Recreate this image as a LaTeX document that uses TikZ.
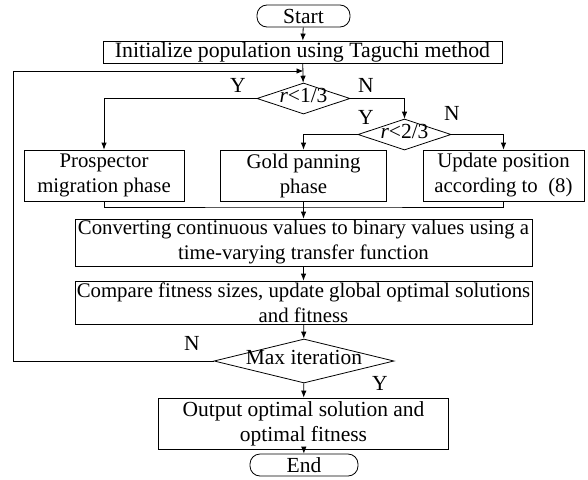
\documentclass[tikz,border=0pt]{standalone}
\usepackage{fontspec}
\setmainfont{Liberation Serif}
\usetikzlibrary{arrows.meta,shapes.geometric}
\tikzset{
  box/.style={draw, line width=0.8pt, inner sep=0pt, align=center, font=\fontsize{20.8}{25}\selectfont},
  term/.style={box, rounded corners=10pt, minimum width=93pt, minimum height=22pt},
  dec/.style={draw, line width=0.8pt, diamond, inner sep=0pt, font=\fontsize{21.5}{25}\selectfont},
  lbl/.style={inner sep=0pt, font=\fontsize{21.5}{25}\selectfont},
  conn/.style={line width=0.8pt},
  arr/.style={conn, -{Latex[length=7pt,width=5.5pt]}}
}
\newcommand{\dtext}[1]{\raisebox{-0.33em}{\makebox[0pt]{\smash{#1}}}}
\begin{document}
\begin{tikzpicture}[x=1pt,y=-1pt]
\useasboundingbox (0,0) rectangle (588,479);
\node[term, font=\fontsize{21.5}{25}\selectfont] (start) at (303.5,16) {Start};
\node[box, minimum width=399pt, minimum height=22pt, font=\fontsize{21.8}{25}\selectfont] (init) at (302.5,52) {Initialize population using Taguchi method};
\node[dec, minimum width=93pt, minimum height=31pt] (d1) at (303.5,98.5) {\dtext{{\itshape r}<1/3}};
\node[dec, minimum width=93pt, minimum height=31pt] (d2) at (404.5,134.5) {\dtext{{\itshape r}<2/3}};
\node[box, minimum width=160pt, minimum height=51pt] (pros) at (104,175.5) {Prospector\\migration phase};
\node[box, minimum width=166pt, minimum height=51pt] (gold) at (303.5,175.5) {Gold panning\\phase};
\node[box, minimum width=161pt, minimum height=51pt] (upd) at (503.5,175.5) {Update position\\according to~~(8)};
\node[box, minimum width=457pt, minimum height=47pt] (conv) at (303.5,242.5) {Converting continuous values to binary values using a\\time-varying transfer function};
\node[box, minimum width=457pt, minimum height=43pt] (comp) at (303.5,302.5) {Compare fitness sizes, update global optimal solutions\\and fitness};
\node[dec, minimum width=180pt, minimum height=44pt] (max) at (304,361) {\dtext{Max iteration}};
\node[box, minimum width=290pt, minimum height=51pt, font=\fontsize{21.5}{25}\selectfont] (out) at (303.5,423.5) {Output optimal solution and\\optimal fitness};
\node[term, minimum width=108pt, font=\fontsize{21.5}{25}\selectfont] (end) at (304,465) {End};

\node[lbl] (y1) at (238,85) {Y};
\node[lbl] (n1) at (366,85) {N};
\node[lbl] (y2) at (366,117) {Y};
\node[lbl] (n2) at (452,113) {N};
\node[lbl] (n3) at (192,343) {N};
\node[lbl] (y3) at (380,383) {Y};

\coordinate (join) at (303.5,71);
\coordinate (loopT) at (13,71);
\coordinate (loopB) at (13,361);
\coordinate (mrg) at (303.5,207);

\draw[arr] (start) -- (init);
\draw[arr] (init) -- (d1);
\draw[arr] (max.west) -- (loopB) -- (loopT) -- (join);
\draw[arr] (d1.west) -| (pros.north);
\draw[arr] (d1.east) -| (d2.north);
\draw[arr] (d2.west) -| (gold.north);
\draw[arr] (d2.east) -| (upd.north);
\draw[conn] (pros.south) |- (mrg) -| (upd.south);
\draw[conn] (gold.south) -- (mrg);
\draw[arr] (mrg) -- (conv.north);
\draw[arr] (conv) -- (comp);
\draw[arr] (comp) -- (max);
\draw[arr] (max) -- (out);
\draw[arr] (out) -- (end);
\end{tikzpicture}
\end{document}
